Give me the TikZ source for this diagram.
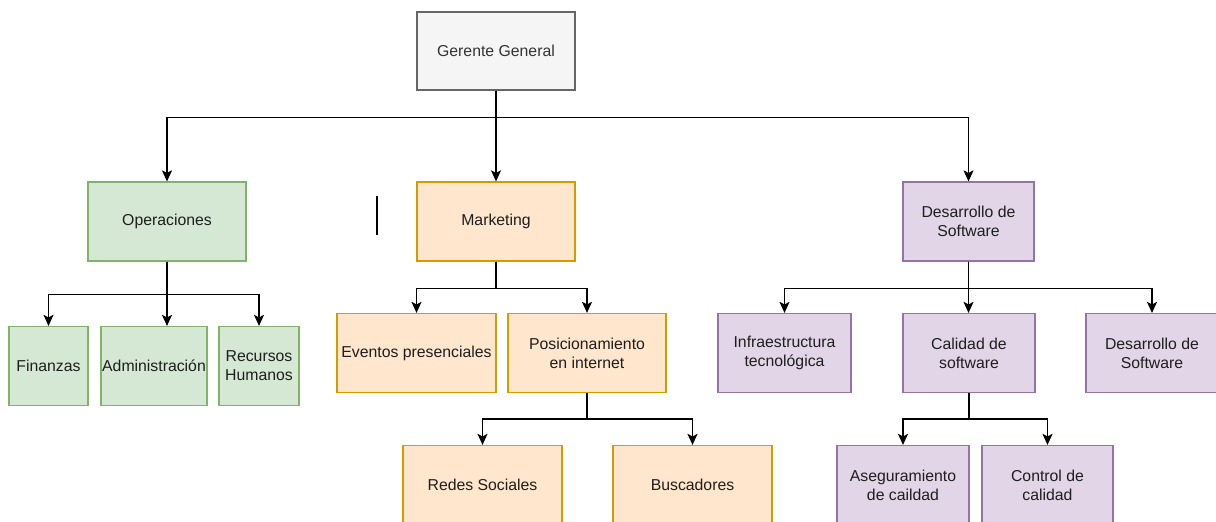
\documentclass[tikz,border=0pt]{standalone}
\usepackage{fontspec}
\setmainfont{Liberation Sans}
\usetikzlibrary{arrows.meta}
\definecolor{gfill}{HTML}{F5F5F5}
\definecolor{gline}{HTML}{666666}
\definecolor{gtext}{HTML}{333333}
\definecolor{grfill}{HTML}{D5E8D4}
\definecolor{grline}{HTML}{82B366}
\definecolor{orfill}{HTML}{FFE6CC}
\definecolor{orline}{HTML}{D79B00}
\definecolor{pufill}{HTML}{E1D5E7}
\definecolor{puline}{HTML}{9673A6}
\definecolor{btext}{HTML}{1E1E1E}
\begin{document}
\begin{tikzpicture}[x=1pt,y=-1pt,
  box/.style={draw, line width=1.2pt, align=center, inner sep=0pt, text=btext,
    font=\fontsize{15.8}{19}\selectfont, minimum height=79pt},
  boss/.style={box, fill=gfill, draw=gline, text=gtext},
  green/.style={box, fill=grfill, draw=grline},
  orange/.style={box, fill=orfill, draw=orline},
  purple/.style={box, fill=pufill, draw=puline},
  link/.style={line width=1.4pt, draw=black, -{Stealth[length=11pt,width=10pt,inset=2.5pt]}}]
\clip (0,0) rectangle (1216,522);
\fill[white] (0,0) rectangle (1216,522);

% top level
\node[boss, minimum width=158pt, minimum height=78pt] (gg) at (496,51) {Gerente General};

% departments
\node[green,  minimum width=158pt] (ops) at (167,221.5) {Operaciones};
\node[orange, minimum width=158pt] (mkt) at (496,221.5) {Marketing};
\node[purple, minimum width=131pt] (dev) at (968.5,221.5) {Desarrollo de\\Software};

% operations units
\node[green, minimum width=79pt]  (fin) at (48.5,366) {Finanzas};
\node[green, minimum width=106pt] (adm) at (154,366) {Administración};
\node[green, minimum width=80pt]  (rh)  at (259,366) {Recursos\\Humanos};

% marketing units
\node[orange, minimum width=159pt] (ev)  at (416.5,353) {Eventos presenciales};
\node[orange, minimum width=158pt] (pos) at (587,353) {Posicionamiento\\en internet};
\node[orange, minimum width=159pt] (red) at (482.5,485) {Redes Sociales};
\node[orange, minimum width=159pt] (bus) at (692.5,485) {Buscadores};

% software units
\node[purple, minimum width=133pt] (inf) at (784.5,353) {Infraestructura\\tecnológica};
\node[purple, minimum width=132pt] (cal) at (969,353) {Calidad de\\software};
\node[purple, minimum width=132pt] (ds2) at (1152,353) {Desarrollo de\\Software};
\node[purple, minimum width=132pt] (ase) at (903,485) {Aseguramiento\\de caildad};
\node[purple, minimum width=131pt] (con) at (1047.5,485) {Control de\\calidad};

% connectors
\draw[link] (gg.south) -- ++(0,27) -| (ops.north);
\draw[link] (gg.south) -- (mkt.north);
\draw[link] (gg.south) -- ++(0,27) -| (dev.north);

\draw[link] (ops.south) -- ++(0,33) -| (fin.north);
\draw[link] (ops.south) -- (ops.south |- adm.north);
\draw[link] (ops.south) -- ++(0,33) -| (rh.north);

\draw[link] (mkt.south) -- ++(0,27) -| (ev.north);
\draw[link] (mkt.south) -- ++(0,27) -| (pos.north);

\draw[link] (dev.south) -- ++(0,27) -| (inf.north);
\draw[link] (dev.south) -- (dev.south |- cal.north);
\draw[link] (dev.south) -- ++(0,27) -| (ds2.north);

\draw[link] (pos.south) -- ++(0,26) -| (red.north);
\draw[link] (pos.south) -- ++(0,26) -| (bus.north);

\draw[link] (cal.south) -- ++(0,26) -| (ase.north);
\draw[link] (cal.south) -- ++(0,26) -| (con.north);

% stray caret mark
\coordinate (caretTop) at (377,196);
\coordinate (caretBot) at (377,235);
\draw[line width=1.3pt] (caretTop) -- (caretBot);
\end{tikzpicture}
\end{document}
